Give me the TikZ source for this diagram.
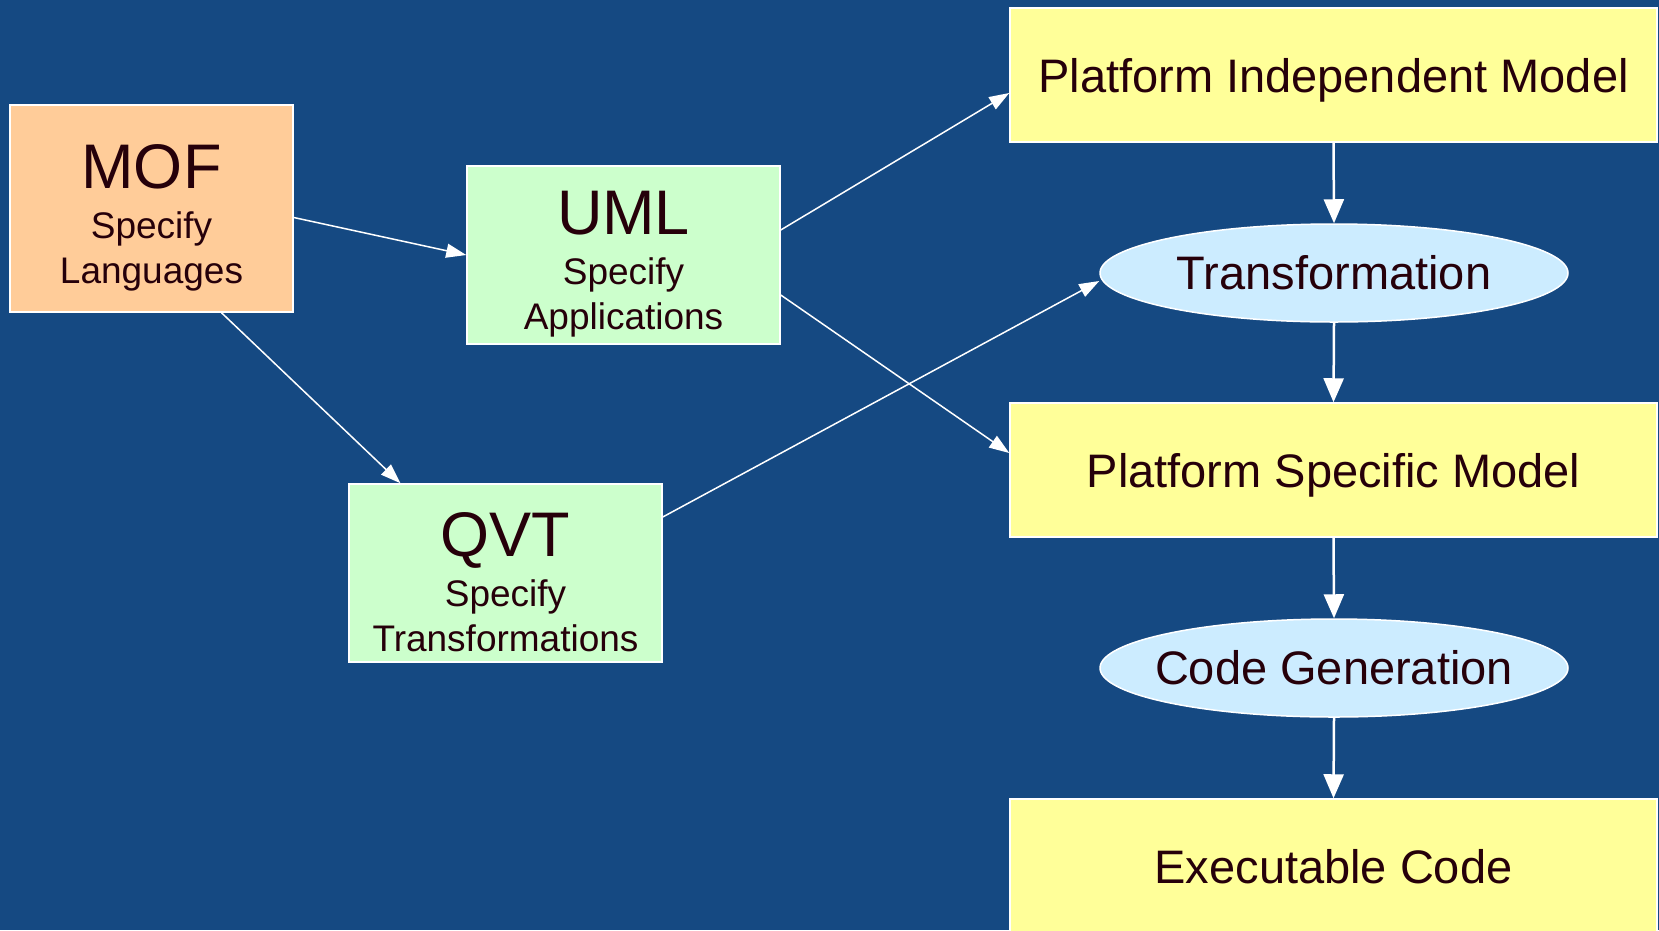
\documentclass[tikz,border=0pt]{standalone}
\usepackage{fontspec}
\setmainfont{Liberation Sans}
\usetikzlibrary{shapes.geometric,arrows.meta}

\definecolor{slidebg}{RGB}{21,73,130}
\definecolor{mofcol}{RGB}{255,204,153}
\definecolor{langcol}{RGB}{204,255,204}
\definecolor{modelcol}{RGB}{255,255,153}
\definecolor{stepcol}{RGB}{204,236,255}
\definecolor{inkcol}{RGB}{38,0,10}

\tikzset{
    langbox/.style={draw=white, line width=1.5pt, rectangle, minimum width=313pt, minimum height=178pt,
        align=center, inner sep=0pt, text=inkcol, font=\fontsize{37}{45}\selectfont},
    modelbox/.style={draw=white, line width=1.5pt, rectangle, fill=modelcol, minimum width=647pt, minimum height=134pt,
        inner sep=0pt, text depth=0pt, text=inkcol, font=\fontsize{47}{56}\selectfont},
    stepellipse/.style={draw=white, line width=1.5pt, ellipse, fill=stepcol, minimum width=468pt, minimum height=98pt,
        inner sep=0pt, inner xsep=-25pt, text=inkcol, font=\fontsize{47}{56}\selectfont},
    link/.style={draw=white, line width=1.5pt, -{Triangle[length=20pt,width=14pt]}},
    chain/.style={draw=white, line width=2.5pt, -{Triangle[length=24pt,width=20pt]}}
}

\newcommand{\langtitle}[1]{{\fontsize{63}{63}\selectfont\rule{0pt}{62pt}#1}}

\begin{document}
\begin{tikzpicture}[x=1pt, y=-1pt]
    % Background
    \fill[slidebg] (0,0) rectangle (1659,930);
    \useasboundingbox (0,0) rectangle (1659,930);

    % Language boxes
    \node[langbox, fill=mofcol, minimum width=283pt, minimum height=207pt] (mof) at (151.5,208.5)
        {\langtitle{MOF}\\[5pt] Specify\\ Languages};
    \node[langbox, fill=langcol] (uml) at (623.5,255)
        {\langtitle{UML}\\[5pt] Specify\\ Applications};
    \node[langbox, fill=langcol] (qvt) at (505.5,573)
        {\langtitle{QVT}\\[5pt] Specify\\ Transformations};

    % Model chain
    \node[modelbox] (pim) at (1333.5,75) {Platform Independent Model};
    \node[stepellipse] (trans) at (1334,273) {Transformation};
    \node[modelbox] (psm) at (1333.5,470) {Platform Specific Model};
    \node[stepellipse] (codegen) at (1334,668) {Code Generation};
    \node[modelbox] (exe) at (1333.5,866) {Executable Code};

    % Arrows between languages
    \draw[link] ([yshift=-9pt]mof.east) -- (uml.west);
    \draw[link] ([xshift=70pt]mof.south) -- ([xshift=-105pt]qvt.north);

    % Arrows to models
    \draw[link] ([yshift=25pt]uml.east) -- ([yshift=-18pt]pim.west);
    \draw[link] ([yshift=-40pt]uml.east) -- ([yshift=17pt]psm.west);
    \draw[link] ([yshift=56pt]qvt.east) -- ([yshift=-8pt]trans.west);

    % Arrows down the chain
    \draw[chain] (pim.south) -- (trans.north);
    \draw[chain] (trans.south) -- (psm.north);
    \draw[chain] (psm.south) -- (codegen.north);
    \draw[chain] (codegen.south) -- (exe.north);

\end{tikzpicture}
\end{document}
